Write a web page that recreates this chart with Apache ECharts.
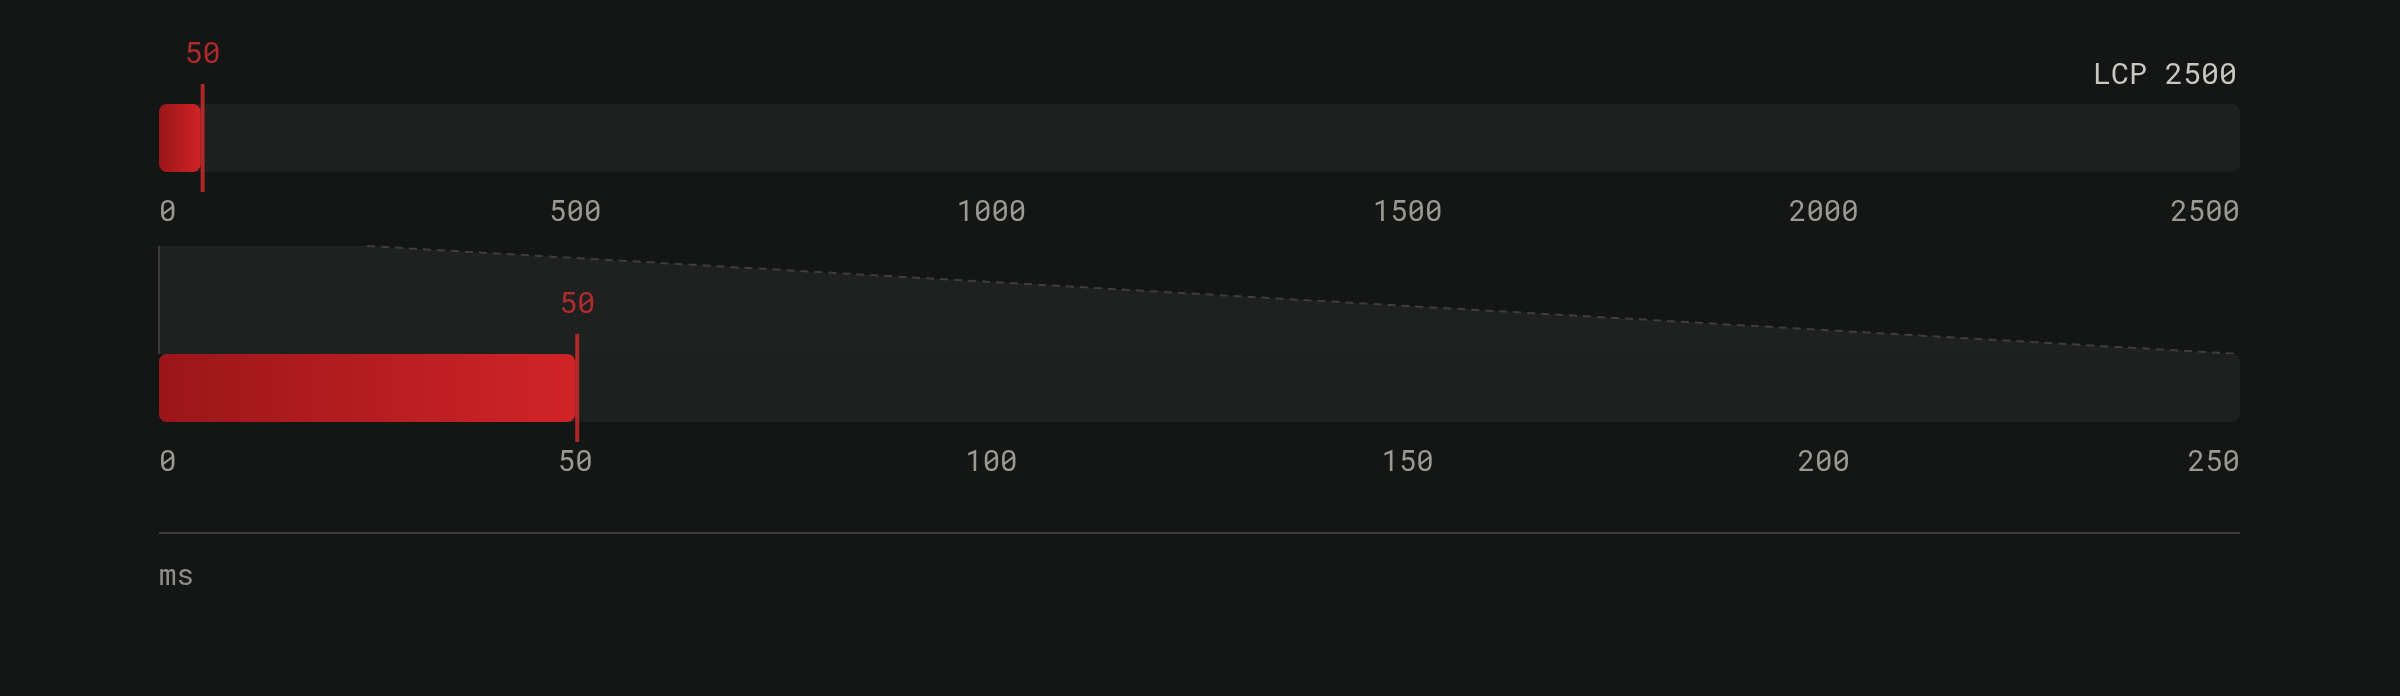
<!DOCTYPE html>
<html>
<head>
<meta charset="utf-8">
<script src="https://cdn.jsdelivr.net/npm/echarts@6/dist/echarts.min.js"></script>
<style>
html,body{margin:0;padding:0;background:#141515;}
#c{width:2400px;height:696px;}
</style>
</head>
<body>
<div id="c"></div>
<script>
// ---- data ----
const categories = ['LCP'];
const lcpValues = [50];
const markerValues = [50];
const overviewRange = [0, 2500];
const overviewInterval = 500;
const detailRange = [0, 250];
const detailInterval = 50;
const titleText = 'LCP 2500';
const unitText = 'ms';

const FONT = 'Roboto Mono';
const FS = 29;
const RED = '#d42a2a';
const TRACK = '#1e1f1f';
const BG = '#141515';
const TICK = '#9a9a92';

const chart = echarts.init(document.getElementById('c'), null, {renderer: 'canvas'});

const L = 159, R = 160;
const barGrad = new echarts.graphic.LinearGradient(0, 0, 1, 0, [
  {offset: 0, color: '#9b1619'},
  {offset: 1, color: '#d02427'}
]);

function xAxisFor(idx, range, interval) {
  return {
    type: 'value', gridIndex: idx, min: range[0], max: range[1], interval: interval,
    axisLine: {show: false}, axisTick: {show: false}, splitLine: {show: false},
    axisLabel: {
      color: TICK, fontFamily: FONT, fontSize: FS, margin: 26,
      formatter: v => String(v),
      alignMinLabel: 'left', alignMaxLabel: 'right'
    }
  };
}
function yAxisFor(idx) {
  return {type: 'category', gridIndex: idx, data: categories, show: false};
}
function barSeries(idx) {
  return {
    type: 'bar', xAxisIndex: idx, yAxisIndex: idx, data: lcpValues,
    barWidth: '100%', silent: true,
    showBackground: true,
    backgroundStyle: {color: TRACK, borderRadius: 8},
    itemStyle: {color: barGrad, borderRadius: 8}
  };
}
function markerSeries(idx) {
  return {
    type: 'scatter', xAxisIndex: idx, yAxisIndex: idx,
    data: markerValues.map((v, i) => [v, categories[i]]),
    symbol: 'rect', symbolSize: [4, 108], symbolOffset: [2, 0], silent: true, z: 5,
    itemStyle: {color: RED},
    label: {
      show: true, position: 'top', distance: 15,
      formatter: p => String(p.value[0]),
      color: '#d63030', fontFamily: FONT, fontSize: 30
    }
  };
}

chart.setOption({
  backgroundColor: BG,
  animation: false,
  title: {
    text: titleText, right: R - 2, top: 55,
    textStyle: {color: '#c8c8c0', fontFamily: FONT, fontSize: 30, fontWeight: 'normal'}
  },
  grid: [
    {left: L, right: R, top: 104, height: 68},
    {left: L, right: R, top: 354, height: 68}
  ],
  xAxis: [xAxisFor(0, overviewRange, overviewInterval), xAxisFor(1, detailRange, detailInterval)],
  yAxis: [yAxisFor(0), yAxisFor(1)],
  series: [barSeries(0), markerSeries(0), barSeries(1), markerSeries(1)]
});

// connector between overview zoom window [0, detailRange max] and detail track
function drawConnector() {
  const g1 = chart.getModel().getComponent('grid', 1).coordinateSystem.getRect();
  const xa0 = chart.convertToPixel({xAxisIndex: 0}, detailRange[0]);
  const xa1 = chart.convertToPixel({xAxisIndex: 0}, detailRange[1]);
  const xb0 = chart.convertToPixel({xAxisIndex: 1}, detailRange[0]);
  const xb1 = chart.convertToPixel({xAxisIndex: 1}, detailRange[1]);
  const yTop = 246, yBot = g1.y;
  chart.setOption({
    graphic: [
      {type: 'polygon', z: -1, silent: true,
        shape: {points: [[xa0, yTop], [xa1, yTop], [xb1, yBot], [xb0, yBot]]},
        style: {fill: '#1f2020'}},
      {type: 'line', silent: true,
        shape: {x1: xa0, y1: yTop, x2: xb0, y2: yBot},
        style: {stroke: '#3b3c3b', lineWidth: 2}},
      {type: 'line', silent: true,
        shape: {x1: xa1, y1: yTop, x2: xb1, y2: yBot},
        style: {stroke: '#3d3e3d', lineWidth: 2, lineDash: [8, 6]}},
      {type: 'line', silent: true,
        shape: {x1: xb0, y1: 533, x2: xb1, y2: 533},
        style: {stroke: '#3a3b3a', lineWidth: 2}},
      {type: 'text', silent: true, left: xb0, top: 562,
        style: {text: unitText, fill: '#8f8f88', font: FS + 'px "' + FONT + '"'}}
    ]
  });
}
drawConnector();
</script>
</body>
</html>
